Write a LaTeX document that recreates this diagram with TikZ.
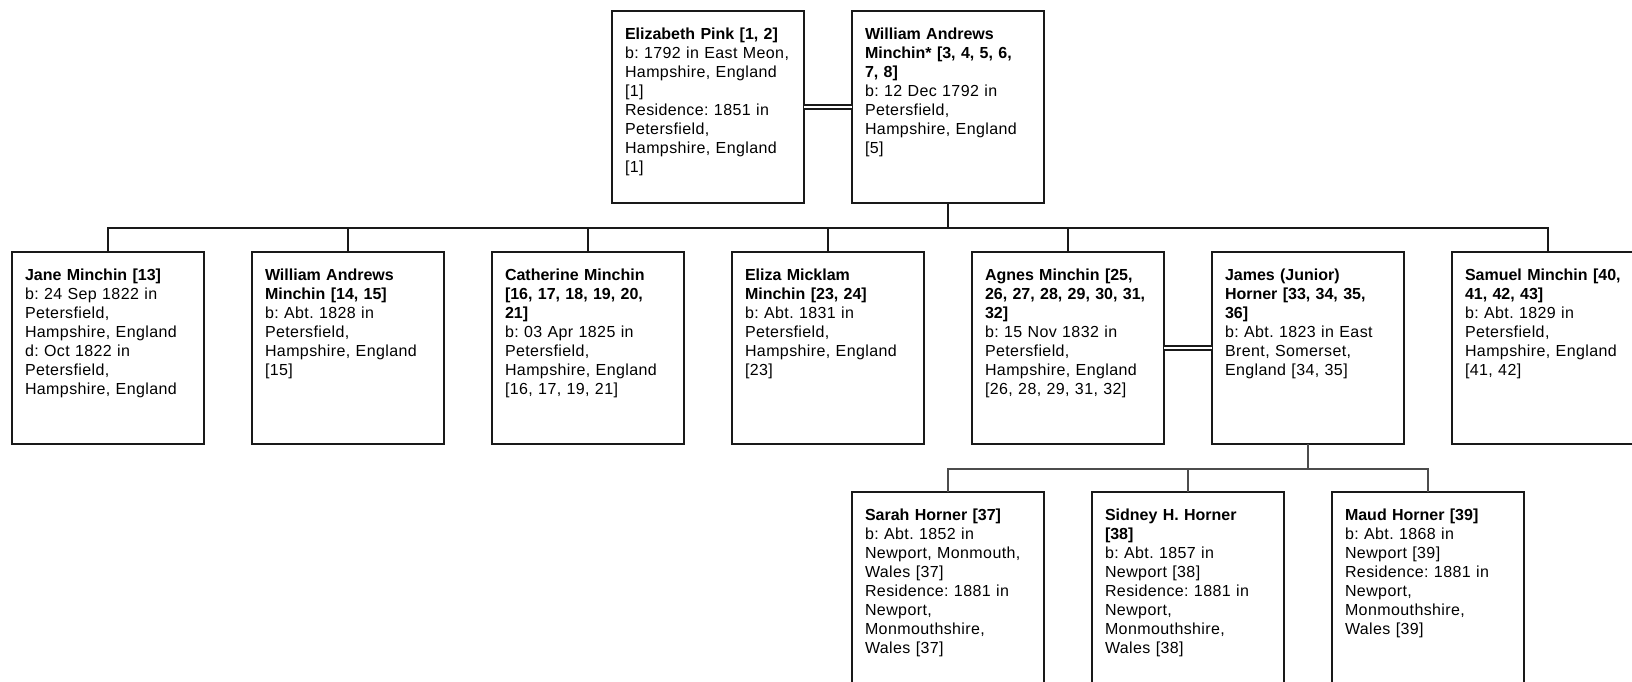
\documentclass[tikz,border=0pt]{standalone}
\usepackage{fontspec}
\setmainfont{Liberation Sans}[UprightFeatures={LetterSpace=2.5}]
\usepackage{tikz}
\usepackage{xcolor}
\usetikzlibrary{positioning}

\begin{document}
\frenchspacing
\begin{tikzpicture}[x=1pt,y=-1pt,
    person/.style={rectangle,draw=black!90,line width=2pt,fill=white,outer sep=0pt,
      anchor=north west,align=left,text width=166pt,inner xsep=13pt,inner ysep=16pt,
      text height=12pt,text depth=148pt,font=\fontsize{16}{19}\selectfont},
    tie/.style={line width=2pt,black!90},
    thin tie/.style={line width=1.4pt,black!70},
    marriage/.style={double,double distance=2pt,line width=1.6pt,black!90}]
    \useasboundingbox (0,0) rectangle (1632,681);
    \clip (0,0) rectangle (1632,681);
    \fill[white] (0,0) rectangle (1632,681);

    % Parents
    \node[person] (eliz) at (612,11) {\textbf{Elizabeth Pink [1, 2]}\\ b: 1792 in East Meon,\\ Hampshire, England\\ {[1]}\\ Residence: 1851 in\\ Petersfield,\\ Hampshire, England\\ {[1]}};
    \node[person,anchor=west,right=48pt of eliz] (wam) {\textbf{William Andrews}\\ \textbf{Minchin* [3, 4, 5, 6,}\\ \textbf{7, 8]}\\ b: 12 Dec 1792 in\\ Petersfield,\\ Hampshire, England\\ {[5]}};

    % Children
    \node[person] (jane) at (12,252) {\textbf{Jane Minchin [13]}\\ b: 24 Sep 1822 in\\ Petersfield,\\ Hampshire, England\\ d: Oct 1822 in\\ Petersfield,\\ Hampshire, England};
    \node[person,anchor=west,right=48pt of jane] (wamjr) {\textbf{William Andrews}\\ \textbf{Minchin [14, 15]}\\ b: Abt. 1828 in\\ Petersfield,\\ Hampshire, England\\ {[15]}};
    \node[person,anchor=west,right=48pt of wamjr] (cath) {\textbf{Catherine Minchin}\\ \textbf{[16, 17, 18, 19, 20,}\\ \textbf{21]}\\ b: 03 Apr 1825 in\\ Petersfield,\\ Hampshire, England\\ {[16, 17, 19, 21]}};
    \node[person,anchor=west,right=48pt of cath] (eliza) {\textbf{Eliza Micklam}\\ \textbf{Minchin [23, 24]}\\ b: Abt. 1831 in\\ Petersfield,\\ Hampshire, England\\ {[23]}};
    \node[person,anchor=west,right=48pt of eliza] (agnes) {\textbf{Agnes Minchin [25,}\\ \textbf{26, 27, 28, 29, 30, 31,}\\ \textbf{32]}\\ b: 15 Nov 1832 in\\ Petersfield,\\ Hampshire, England\\ {[26, 28, 29, 31, 32]}};
    \node[person,anchor=west,right=48pt of agnes] (james) {\textbf{James (Junior)}\\ \textbf{Horner [33, 34, 35,}\\ \textbf{36]}\\ b: Abt. 1823 in East\\ Brent, Somerset,\\ England [34, 35]};
    \node[person,anchor=west,right=48pt of james] (samuel) {\textbf{Samuel Minchin [40,}\\ \textbf{41, 42, 43]}\\ b: Abt. 1829 in\\ Petersfield,\\ Hampshire, England\\ {[41, 42]}};

    % Grandchildren
    \node[person] (sarah) at (852,492) {\textbf{Sarah Horner [37]}\\ b: Abt. 1852 in\\ Newport, Monmouth,\\ Wales [37]\\ Residence: 1881 in\\ Newport,\\ Monmouthshire,\\ Wales [37]};
    \node[person,anchor=west,right=48pt of sarah] (sidney) {\textbf{Sidney H. Horner}\\ \textbf{[38]}\\ b: Abt. 1857 in\\ Newport [38]\\ Residence: 1881 in\\ Newport,\\ Monmouthshire,\\ Wales [38]};
    \node[person,anchor=west,right=48pt of sidney] (maud) {\textbf{Maud Horner [39]}\\ b: Abt. 1868 in\\ Newport [39]\\ Residence: 1881 in\\ Newport,\\ Monmouthshire,\\ Wales [39]};

    % Marriages
    \draw[marriage] (eliz.east) -- (wam.west);
    \draw[marriage] (agnes.east) -- (james.west);

    % Descent lines
    \coordinate (kids) at ([yshift=-25pt]wam.south);
    \draw[tie] (wam.south) -- (kids);
    \foreach \kid in {jane,wamjr,cath,eliza,agnes,samuel}
        \draw[tie] (kids) -| (\kid.north);
    \coordinate (grandkids) at ([yshift=-25pt]james.south);
    \draw[thin tie] (james.south) -- (grandkids);
    \foreach \kid in {sarah,sidney,maud}
        \draw[thin tie] (grandkids) -| (\kid.north);
\end{tikzpicture}
\end{document}
